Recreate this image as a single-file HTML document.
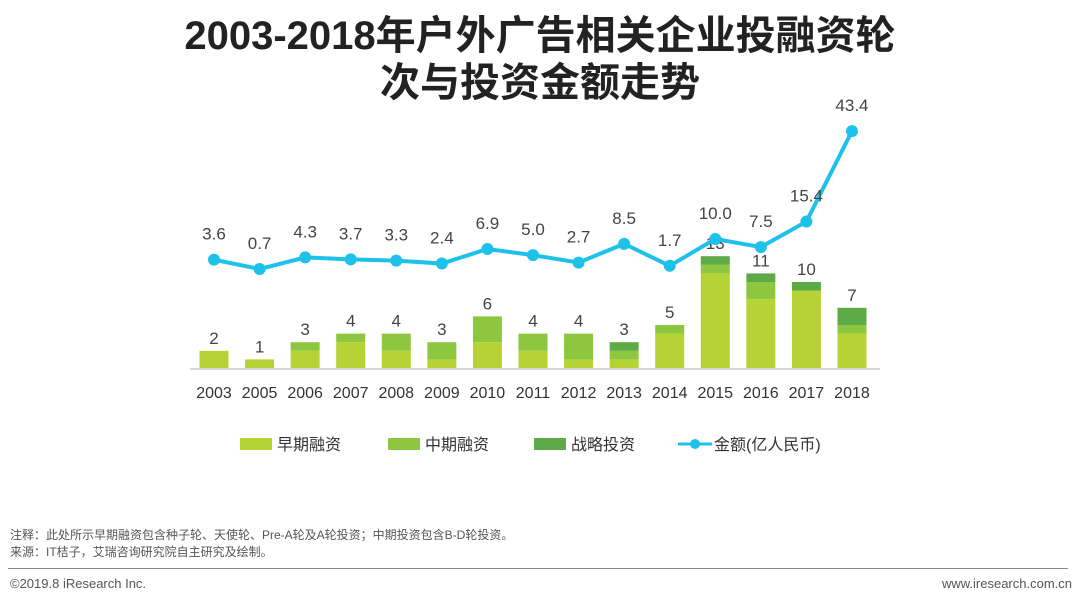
<!DOCTYPE html>
<html><head><meta charset="utf-8"><style>
body{margin:0;width:1080px;height:604px;background:#fff;overflow:hidden;font-family:"Liberation Sans","Noto Sans CJK SC",sans-serif;position:relative}
.t{position:absolute;left:0;width:1080px;text-align:center;font-weight:bold;font-size:40px;color:#222;line-height:47px}
.n{position:absolute;left:10px;font-size:12px;color:#555}
</style></head><body>
<div class="t" style="top:13px">2003-2018年户外广告相关企业投融资轮<br>次与投资金额走势</div>
<svg id="c" width="1080" height="604" style="position:absolute;left:0;top:0"></svg>
<div class="n" style="top:526px">注释：此处所示早期融资包含种子轮、天使轮、Pre-A轮及A轮投资；中期投资包含B-D轮投资。</div>
<div class="n" style="top:543px">来源：IT桔子，艾瑞咨询研究院自主研究及绘制。</div>
<div style="position:absolute;left:8px;top:568px;width:1060px;height:1px;background:#888"></div>
<div class="n" style="top:576px;font-size:13px">©2019.8 iResearch Inc.</div>
<div class="n" style="top:576px;left:auto;right:8px;font-size:13px">www.iresearch.com.cn</div>
<script>
const years=["2003","2005","2006","2007","2008","2009","2010","2011","2012","2013","2014","2015","2016","2017","2018"];
const early=[2,1,2,3,2,1,3,2,1,1,4,11,8,9,4];
const mid=[0,0,1,1,2,2,3,2,3,1,1,1,2,0,1];
const strat=[0,0,0,0,0,0,0,0,0,1,0,1,1,1,2];
const amount=[3.6,0.7,4.3,3.7,3.3,2.4,6.9,5.0,2.7,8.5,1.7,10.0,7.5,15.4,43.4];
const amountLabels=["3.6","0.7","4.3","3.7","3.3","2.4","6.9","5.0","2.7","8.5","1.7","10.0","7.5","15.4","43.4"];
const svg=document.getElementById('c');const NS='http://www.w3.org/2000/svg';
function mk(t,a,p){const e=document.createElementNS(NS,t);for(const k in a)e.setAttribute(k,a[k]);(p||svg).appendChild(e);return e;}
const x=i=>214+i*45.57;const yb=v=>368-v*8.6;const yl=v=>271.3-v*3.23;
const cols=["#b5d334","#8dc63f","#5daa46"];
let ax=mk('line',{x1:190,x2:880,y1:369,y2:369,stroke:'#ccc','stroke-width':1.5});

years.forEach((yr,i)=>{
 let base=0;[early[i],mid[i],strat[i]].forEach((v,k)=>{if(!v)return;
  const r=mk('rect',{x:x(i)-14.5,y:yb(base+v),width:29,height:v*8.6,fill:cols[k]});
  
  base+=v;});
 const tl=mk('text',{x:x(i),y:yb(base)-7,'text-anchor':'middle','font-size':17,fill:'#444'});tl.textContent=base;
 
 const xl=mk('text',{x:x(i),y:398,'text-anchor':'middle','font-size':16,fill:'#333'});xl.textContent=yr;
 
});
const pl=mk('polyline',{points:amount.map((v,i)=>x(i)+','+yl(v)).join(' '),fill:'none',stroke:'#1ec1ea','stroke-width':4});

amount.forEach((v,i)=>{
 const c=mk('circle',{cx:x(i),cy:yl(v),r:6,fill:'#1ec1ea'});
 
 const l=mk('text',{x:x(i),y:yl(v)-20,'text-anchor':'middle','font-size':17,fill:'#444'});l.textContent=amountLabels[i];
 
});
const leg=[["早期融资",240,cols[0]],["中期融资",388,cols[1]],["战略投资",534,cols[2]]];
leg.forEach(d=>{const r=mk('rect',{x:d[1],y:438,width:32,height:12,fill:d[2]});
 
 const t=mk('text',{x:d[1]+37,y:450,'font-size':16,fill:'#333'});t.textContent=d[0];
 });
const ll=mk('line',{x1:678,x2:712,y1:444,y2:444,stroke:'#1ec1ea','stroke-width':3});

const lc=mk('circle',{cx:695,cy:444,r:5,fill:'#1ec1ea'});

const lt=mk('text',{x:714,y:450,'font-size':16,fill:'#333'});lt.textContent="金额(亿人民币)";

</script>
</body></html>
